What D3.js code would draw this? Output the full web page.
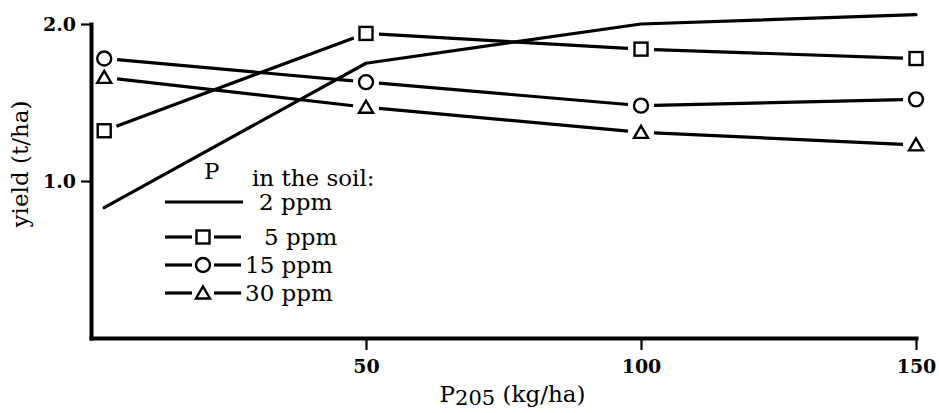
<!DOCTYPE html>
<html>
<head>
<meta charset="utf-8">
<script src="https://cdn.jsdelivr.net/npm/d3@7"></script>
<style>
  html, body { margin: 0; padding: 0; background: #fff; }
  svg { display: block; }
  text { fill: #000; }
</style>
</head>
<body>
<svg id="chart" width="939" height="413"></svg>
<script>
// ---- data ----
const doseValues = [2.4, 50, 100, 150];          // P2O5 applied (kg/ha)
const yield2ppm  = [0.83, 1.75, 2.00, 2.06];
const yield5ppm  = [1.32, 1.94, 1.84, 1.78];
const yield15ppm = [1.78, 1.63, 1.48, 1.52];
const yield30ppm = [1.66, 1.47, 1.31, 1.23];
const seriesNames = ["2 ppm", "5 ppm", "15 ppm", "30 ppm"];
const seriesMarkers = ["none", "square", "circle", "triangle"];
const xTickValues = [50, 100, 150];
const yTickValues = [1.0, 2.0];

const seriesData = [yield2ppm, yield5ppm, yield15ppm, yield30ppm];

const svg = d3.select("#chart");
const x = d3.scaleLinear().domain([0, 150]).range([91, 916]);
const y = d3.scaleLinear().domain([0, 2.0]).range([338, 24]);

const serif = "'DejaVu Serif', 'Liberation Serif', serif";

// ---- axes ----
const yAxis = d3.axisLeft(y).tickValues(yTickValues).tickFormat(d3.format(".1f"))
  .tickSize(10).tickSizeOuter(0).tickPadding(5);
const gy = svg.append("g").attr("transform", `translate(${x(0)},0)`).call(yAxis);
gy.select(".domain").attr("stroke", "#000").attr("stroke-width", 4).attr("stroke-linecap", "square");
gy.selectAll(".tick line").attr("stroke", "#000").attr("stroke-width", 2.2);
gy.selectAll(".tick text").attr("font-family", serif).attr("font-weight", "bold")
  .attr("font-size", 19).attr("fill", "#000");

const xAxis = d3.axisBottom(x).tickValues(xTickValues).tickFormat(d3.format("d"))
  .tickSize(12).tickSizeOuter(0).tickPadding(10);
const gx = svg.append("g").attr("transform", `translate(0,${y(0)})`).call(xAxis);
gx.select(".domain").attr("stroke", "#000").attr("stroke-width", 4).attr("stroke-linecap", "square");
gx.selectAll(".tick line").attr("stroke", "#000").attr("stroke-width", 2.2);
gx.selectAll(".tick text").attr("font-family", serif).attr("font-weight", "bold")
  .attr("font-size", 19).attr("fill", "#000");

// axis titles
svg.append("text")
  .attr("transform", `translate(28,${(y(0) + y(2)) / 2 - 17}) rotate(-90)`)
  .attr("text-anchor", "middle")
  .attr("font-family", serif).attr("font-size", 23)
  .text("yield (t/ha)");

const xt = svg.append("text")
  .attr("x", (x(0) + x(150)) / 2 + 9).attr("y", 402)
  .attr("text-anchor", "middle")
  .attr("font-family", serif).attr("font-size", 23);
xt.append("tspan").text("P");
xt.append("tspan").attr("dy", 3).attr("font-size", 21).text("205");
xt.append("tspan").attr("dy", -3).text(" (kg/ha)");

// ---- markers ----
function drawMarker(g, type, cx, cy) {
  const common = s => s.attr("fill", "#fff").attr("stroke", "#000").attr("stroke-width", 2.4);
  if (type === "square") {
    g.append("rect").attr("x", cx - 6.5).attr("y", cy - 6.5).attr("width", 13).attr("height", 13).call(common);
  } else if (type === "circle") {
    g.append("circle").attr("cx", cx).attr("cy", cy).attr("r", 7).call(common);
  } else if (type === "triangle") {
    g.append("path").attr("d", `M${cx},${cy - 6.5}L${cx + 7},${cy + 5.5}L${cx - 7},${cy + 5.5}Z`).call(common);
  }
}

// ---- series ----
const gap = 13;
const plot = svg.append("g");
seriesData.forEach((vals, si) => {
  const pts = vals.map((v, i) => [x(doseValues[i]), y(v)]);
  const marker = seriesMarkers[si];
  if (marker === "none") {
    plot.append("path").datum(pts)
      .attr("d", d3.line())
      .attr("fill", "none").attr("stroke", "#000").attr("stroke-width", 3.2)
      .attr("stroke-linejoin", "round").attr("stroke-linecap", "round");
  } else {
    for (let i = 0; i < pts.length - 1; i++) {
      const [x1, y1] = pts[i], [x2, y2] = pts[i + 1];
      const len = Math.hypot(x2 - x1, y2 - y1);
      const ux = (x2 - x1) / len, uy = (y2 - y1) / len;
      plot.append("line")
        .attr("x1", x1 + ux * gap).attr("y1", y1 + uy * gap)
        .attr("x2", x2 - ux * gap).attr("y2", y2 - uy * gap)
        .attr("stroke", "#000").attr("stroke-width", 3.2).attr("stroke-linecap", "butt");
    }
    pts.forEach(p => drawMarker(plot, marker, p[0], p[1]));
  }
});

// ---- legend ----
const lg = svg.append("g");
lg.append("text").attr("x", 204).attr("y", 179)
  .attr("font-family", serif).attr("font-size", 23).text("P");
lg.append("text").attr("x", 252).attr("y", 186)
  .attr("font-family", serif).attr("font-size", 23).text("in the soil:");
const rowY = [202, 237, 265, 293];
const labelX = [259, 264, 245, 245];
seriesNames.forEach((name, i) => {
  const ry = rowY[i];
  if (seriesMarkers[i] === "none") {
    lg.append("line").attr("x1", 165).attr("x2", 243).attr("y1", ry).attr("y2", ry)
      .attr("stroke", "#000").attr("stroke-width", 3.2);
  } else {
    lg.append("line").attr("x1", 165).attr("x2", 192).attr("y1", ry).attr("y2", ry)
      .attr("stroke", "#000").attr("stroke-width", 3.2);
    lg.append("line").attr("x1", 214).attr("x2", 241).attr("y1", ry).attr("y2", ry)
      .attr("stroke", "#000").attr("stroke-width", 3.2);
    drawMarker(lg, seriesMarkers[i], 203, ry);
  }
  lg.append("text").attr("x", labelX[i]).attr("y", ry + 8)
    .attr("font-family", serif).attr("font-size", 23).text(name);
});
</script>
</body>
</html>
